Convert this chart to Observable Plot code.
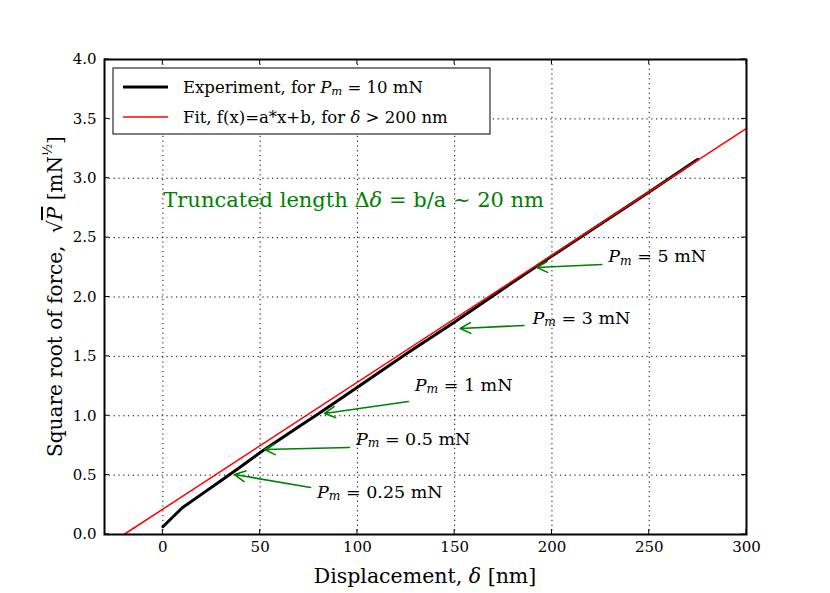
<!DOCTYPE html>
<html>
<head>
<meta charset="utf-8">
<script src="https://cdn.jsdelivr.net/npm/d3@7"></script>
<script src="https://cdn.jsdelivr.net/npm/@observablehq/plot@0.6"></script>
<style>
  html, body { margin: 0; padding: 0; background: white; }
</style>
</head>
<body>
<div id="chart"></div>
<script>
// ---- data ----
const xTicks = [0, 50, 100, 150, 200, 250, 300];
const yTicks = [0, 0.5, 1.0, 1.5, 2.0, 2.5, 3.0, 3.5, 4.0];

// Experiment, Pm = 10 mN
const expX = [0, 10, 20, 30, 40, 50, 60, 70, 80, 100, 125, 150, 175, 200, 225, 250, 275];
const expY = [0.065, 0.225, 0.34, 0.455, 0.57, 0.69, 0.80, 0.91, 1.016, 1.24, 1.52, 1.79, 2.07, 2.345, 2.615, 2.885, 3.16];

// Linear fit (two endpoints)
const fitX = [-20, 300];
const fitY = [0, 3.42];

// Annotations
const annLabel = ["5", "3", "1", "0.5", "0.25"];
const annHeadX = [192.3, 152.8, 83.1, 52.3, 36.9];
const annHeadY = [2.249, 1.735, 1.019, 0.716, 0.505];
const annTailX = [225.6, 185.6, 126.2, 95.9, 75.9];
const annTailY = [2.274, 1.76, 1.12, 0.733, 0.396];
const annTextX = [229.2, 190.3, 129.7, 99.5, 79.5];
const annTextY = [2.34, 1.819, 1.254, 0.80, 0.354];

const noteX = 0.5, noteY = 2.81;

// ---- tables ----
const expData = expX.map((x, i) => ({x, y: expY[i]}));
const fitData = fitX.map((x, i) => ({x, y: fitY[i]}));
const ann = annLabel.map((l, i) => ({
  label: l, hx: annHeadX[i], hy: annHeadY[i], tx: annTailX[i], ty: annTailY[i],
  lx: annTextX[i], ly: annTextY[i]
}));

const FONT = "DejaVu Serif, Liberation Serif, serif";
const dots = {stroke: "black", strokeOpacity: 1, strokeWidth: 1, strokeDasharray: "1.2,3.6"};

const chart = Plot.plot({
  width: 830,
  height: 593,
  marginLeft: 104,
  marginRight: 84,
  marginTop: 59,
  marginBottom: 59,
  style: {fontFamily: FONT, fontSize: "15px", background: "white", color: "black"},
  x: {domain: [-30, 300]},
  y: {domain: [0, 4]},
  marks: [
    Plot.gridX(xTicks, dots),
    Plot.gridY(yTicks, dots),
    Plot.axisX(xTicks, {anchor: "bottom", tickSize: 0, tickPadding: 7, label: null, fontSize: 15, tickFormat: d => String(d)}),
    Plot.axisY(yTicks, {anchor: "left", tickSize: 0, tickPadding: 8, label: null, fontSize: 15, tickFormat: d => d.toFixed(1)}),
    Plot.line(expData, {x: "x", y: "y", stroke: "black", strokeWidth: 3}),
    Plot.line(fitData, {x: "x", y: "y", stroke: "red", strokeWidth: 1.5}),
    Plot.arrow(ann, {x1: "tx", y1: "ty", x2: "hx", y2: "hy", stroke: "green", strokeWidth: 1.6, headLength: 11, headAngle: 55}),
    Plot.frame({stroke: "black", strokeWidth: 2})
  ]
});

document.getElementById("chart").appendChild(chart);

const sx = chart.scale("x"), sy = chart.scale("y");
const svg = d3.select(chart);

// inward ticks on all four sides
const tk = svg.append("g").attr("stroke", "black").attr("stroke-width", 1);
const [xl, xr] = sx.range, [yb, yt] = sy.range;
xTicks.forEach(v => {
  const px = sx.apply(v);
  tk.append("line").attr("x1", px).attr("x2", px).attr("y1", yb).attr("y2", yb - 5);
  tk.append("line").attr("x1", px).attr("x2", px).attr("y1", yt).attr("y2", yt + 5);
});
yTicks.forEach(v => {
  const py = sy.apply(v);
  tk.append("line").attr("x1", xl).attr("x2", xl + 5).attr("y1", py).attr("y2", py);
  tk.append("line").attr("x1", xr).attr("x2", xr - 5).attr("y1", py).attr("y2", py);
});

// helper for "P_m = ..." text
function pm(sel, rest, size) {
  sel.append("tspan").attr("font-style", "italic").text("P");
  sel.append("tspan").attr("font-style", "italic").attr("font-size", size * 0.7).attr("dy", size * 0.25).text("m");
  sel.append("tspan").attr("dy", -size * 0.25).text(rest);
}
function txt(x, y, size, fill, anchor) {
  return svg.append("text").attr("x", x).attr("y", y)
    .attr("font-family", FONT).attr("font-size", size)
    .attr("text-anchor", anchor || "start")
    .attr("dominant-baseline", "central").attr("fill", fill || "black");
}

// annotation labels
ann.forEach(a => {
  const t = txt(sx.apply(a.lx), sy.apply(a.ly), 17.5);
  pm(t, " = " + a.label + " mN", 17.5);
});

// green note
{
  const t = txt(sx.apply(noteX), sy.apply(noteY), 21, "green");
  t.append("tspan").text("Truncated length Δ");
  t.append("tspan").attr("font-style", "italic").text("δ");
  t.append("tspan").text(" = b/a ~ 20 nm");
}

// legend
{
  svg.append("rect").attr("x", 113).attr("y", 68).attr("width", 377).attr("height", 66)
    .attr("fill", "white").attr("stroke", "black").attr("stroke-width", 1);
  svg.append("line").attr("x1", 123).attr("x2", 168).attr("y1", 87).attr("y2", 87)
    .attr("stroke", "black").attr("stroke-width", 3);
  svg.append("line").attr("x1", 123).attr("x2", 168).attr("y1", 117).attr("y2", 117)
    .attr("stroke", "red").attr("stroke-width", 1.5);
  const t1 = txt(183, 87, 16.5);
  t1.append("tspan").text("Experiment, for ");
  pm(t1, " = 10 mN", 16.5);
  const t2 = txt(183, 117, 16.5);
  t2.append("tspan").text("Fit, f(x)=a*x+b, for ");
  t2.append("tspan").attr("font-style", "italic").text("δ");
  t2.append("tspan").text(" > 200 nm");
}

// axis labels
{
  const t = txt((xl + xr) / 2, 576, 20.5, "black", "middle");
  t.append("tspan").text("Displacement, ");
  t.append("tspan").attr("font-style", "italic").text("δ");
  t.append("tspan").text(" [nm]");
}
{
  const t = svg.append("text")
    .attr("transform", `translate(55,${(yb + yt) / 2}) rotate(-90)`)
    .attr("font-family", FONT).attr("font-size", 20).attr("text-anchor", "middle")
    .attr("dominant-baseline", "central");
  t.append("tspan").text("Square root of force,  √");
  t.append("tspan").attr("font-style", "italic").style("text-decoration", "overline").text("P");
  t.append("tspan").text(" [mN");
  t.append("tspan").attr("font-size", 12.5).attr("dy", -8).text("½");
  t.append("tspan").attr("dy", 8).text("]");
}
</script>
</body>
</html>
